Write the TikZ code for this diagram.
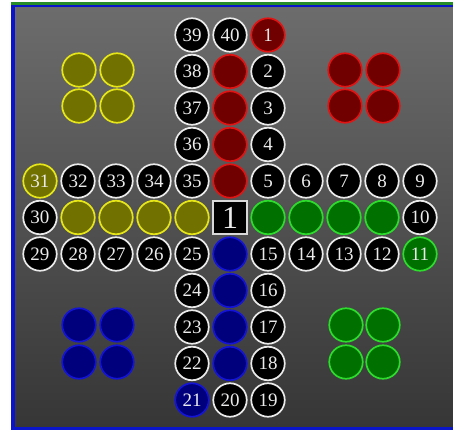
\documentclass[tikz,border=0pt]{standalone}
\usepackage{fontspec}
\setmainfont{Liberation Serif}
\definecolor{redfill}{RGB}{112,0,0}
\definecolor{redline}{RGB}{225,20,20}
\definecolor{yellowfill}{RGB}{113,113,0}
\definecolor{yellowline}{RGB}{230,230,25}
\definecolor{greenfill}{RGB}{0,112,0}
\definecolor{greenline}{RGB}{45,220,45}
\definecolor{bluefill}{RGB}{0,0,125}
\definecolor{blueline}{RGB}{20,20,215}
\definecolor{boardtop}{RGB}{108,108,108}
\definecolor{boardbot}{RGB}{54,54,54}
\definecolor{frameblue}{RGB}{10,20,200}
\definecolor{framegreen}{RGB}{40,140,40}
\definecolor{numtxt}{RGB}{235,235,235}
\tikzset{
  field/.style={circle, minimum size=33.5pt, inner sep=0pt, line width=1.7pt,
    draw=numtxt, fill=black, text=numtxt, font=\fontsize{19}{19}\selectfont},
  redf/.style={field, draw=redline, fill=redfill},
  yellowf/.style={field, draw=yellowline, fill=yellowfill},
  greenf/.style={field, draw=greenline, fill=greenfill},
  bluef/.style={field, draw=blueline, fill=bluefill},
  dicebox/.style={rectangle, minimum width=34pt, minimum height=33pt, inner sep=0pt,
    line width=1.4pt, draw=gray!30, fill=black, text=numtxt, font=\fontsize{32}{32}\selectfont}
}
\begin{document}
\begin{tikzpicture}[x=1pt,y=-1pt]
\useasboundingbox (0,0) rectangle (453,430);
\fill[white] (0,0) rectangle (453,430);
\fill[framegreen] (11,2.5) rectangle (453,5);
\fill[frameblue] (11,5) rectangle (453,430);
\shade[top color=boardtop, bottom color=boardbot] (15,8) rectangle (453,427);
% track
\foreach \n/\c/\r in {39/4/0, 40/5/0, 2/6/1, 3/6/2, 4/6/3, 5/6/4, 6/7/4, 7/8/4, 8/9/4, 9/10/4,
  10/10/5, 12/9/6, 13/8/6, 14/7/6, 15/6/6, 16/6/7, 17/6/8, 18/6/9, 19/6/10, 20/5/10,
  22/4/9, 23/4/8, 24/4/7, 25/4/6, 26/3/6, 27/2/6, 28/1/6, 29/0/6, 30/0/5,
  32/1/4, 33/2/4, 34/3/4, 35/4/4, 36/4/3, 37/4/2, 38/4/1}
  \node[field] (f\n) at ({40+38*\c},{35+36.5*\r}) {\n};
% start fields
\node[redf] (f1) at ({40+38*6},{35}) {1};
\node[greenf] (f11) at ({40+38*10},{35+36.5*6}) {11};
\node[bluef] (f21) at ({40+38*4},{35+36.5*10}) {21};
\node[yellowf] (f31) at ({40},{35+36.5*4}) {31};
% goal fields
\foreach \i in {1,...,4} {
  \node[redf] (rg\i) at ({40+38*5},{35+36.5*\i}) {};
  \node[greenf] (gg\i) at ({40+38*(10-\i)},{35+36.5*5}) {};
  \node[bluef] (bg\i) at ({40+38*5},{35+36.5*(10-\i)}) {};
  \node[yellowf] (yg\i) at ({40+38*\i},{35+36.5*5}) {};
}
% center
\node[dicebox] (dice) at ({40+38*5},{35+36.5*5}) {1};
% home areas
\foreach \i/\x/\y in {1/79/70, 2/117/70, 3/79/106, 4/117/106}
  \node[yellowf] (yh\i) at (\x,\y) {};
\foreach \i/\x/\y in {1/345/70, 2/383/70, 3/345/106, 4/383/106}
  \node[redf] (rh\i) at (\x,\y) {};
\foreach \i/\x/\y in {1/79/325, 2/117/325, 3/79/362, 4/117/362}
  \node[bluef] (bh\i) at (\x,\y) {};
\foreach \i/\x/\y in {1/346/325, 2/383/325, 3/346/362, 4/383/362}
  \node[greenf] (gh\i) at (\x,\y) {};
\end{tikzpicture}
\end{document}
